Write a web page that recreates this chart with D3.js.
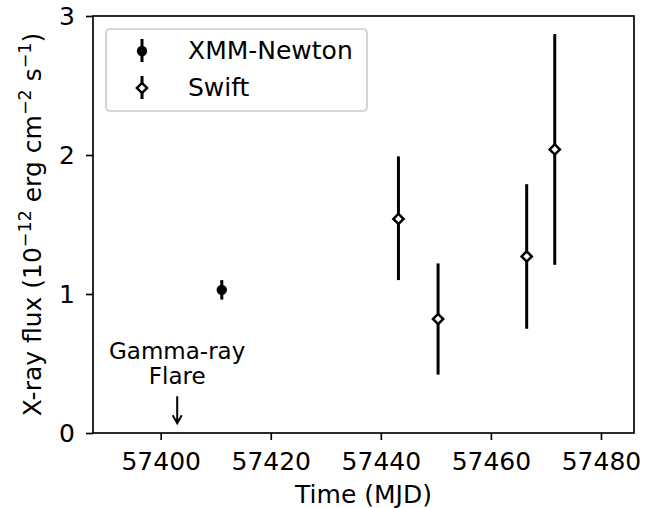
<!DOCTYPE html>
<html lang="en">
  <head>
    <meta charset="UTF-8" />
    <title>X-ray flux light curve</title>
    <script src="https://d3js.org/d3.v7.min.js"></script>
    <style>
      body {
        margin: 0;
        background: #fff;
        font-family: "DejaVu Sans", sans-serif;
      }
      svg text {
        fill: #000;
      }
    </style>
  </head>
  <body>
    <svg width="655" height="508"></svg>

    <script>
      // XMM-Newton point
      const xmmTime = [57411.1];
      const xmmFlux = [1.03];
      const xmmLo = [0.96];
      const xmmHi = [1.10];

      // Swift points
      const swiftTime = [57443.2, 57450.4, 57466.5, 57471.6];
      const swiftFlux = [1.54, 0.82, 1.27, 2.04];
      const swiftLo = [1.10, 0.42, 0.75, 1.21];
      const swiftHi = [1.99, 1.22, 1.79, 2.87];

      // gamma-ray flare marker
      const flareTime = 57403;
      const flareTip = 0.07;
      const flareTail = 0.25;

      const xTicks = [57400, 57420, 57440, 57460, 57480];
      const yTicks = [0, 1, 2, 3];

      const svg = d3.select("svg");
      const pLeft = 93, pRight = 634, pTop = 16, pBottom = 433;

      const x = d3.scaleLinear().domain([57387.7, 57486]).range([pLeft, pRight]);
      const y = d3.scaleLinear().domain([0, 3]).range([pBottom, pTop]);

      const lw = 1.67;

      // axes
      const xAxis = svg.append("g")
        .attr("transform", `translate(0,${pBottom})`)
        .call(d3.axisBottom(x).tickValues(xTicks).tickSize(7).tickPadding(12).tickFormat(d3.format("d")));
      const yAxis = svg.append("g")
        .attr("transform", `translate(${pLeft},0)`)
        .call(d3.axisLeft(y).tickValues(yTicks).tickSize(7).tickPadding(11).tickFormat(d3.format("d")));

      [xAxis, yAxis].forEach((g) => {
        g.select(".domain").remove();
        g.selectAll(".tick line").attr("stroke", "#000").attr("stroke-width", lw);
        g.selectAll(".tick text")
          .attr("font-family", "DejaVu Sans")
          .attr("font-size", 25)
          .attr("fill", "#000");
      });

      // frame
      svg.append("rect")
        .attr("x", pLeft).attr("y", pTop)
        .attr("width", pRight - pLeft).attr("height", pBottom - pTop)
        .attr("fill", "none").attr("stroke", "#000").attr("stroke-width", lw);

      // axis labels
      svg.append("text")
        .attr("x", (pLeft + pRight) / 2).attr("y", 503)
        .attr("text-anchor", "middle")
        .attr("font-size", 25)
        .text("Time (MJD)");

      const yl = svg.append("text")
        .attr("transform", `translate(41,${(pTop + pBottom) / 2}) rotate(-90)`)
        .attr("text-anchor", "middle")
        .attr("font-size", 25);
      const parts = [
        ["X-ray flux (10", false], ["\u221212", true], [" erg cm", false],
        ["\u22122", true], [" s", false], ["\u22121", true], [")", false]
      ];
      parts.forEach(([t, sup], i) => {
        const prevSup = i > 0 && parts[i - 1][1];
        const ts = yl.append("tspan").text(t);
        if (sup) ts.attr("font-size", 17.5).attr("dy", -10);
        else if (prevSup) ts.attr("dy", 10);
      });

      const plot = svg.append("g");

      // error bars
      const bar = (xs, lo, hi) => {
        plot.selectAll(null)
          .data(xs.map((d, i) => ({ t: d, lo: lo[i], hi: hi[i] })))
          .join("line")
          .attr("x1", (d) => x(d.t)).attr("x2", (d) => x(d.t))
          .attr("y1", (d) => y(d.lo)).attr("y2", (d) => y(d.hi))
          .attr("stroke", "#000").attr("stroke-width", 3);
      };
      bar(xmmTime, xmmLo, xmmHi);
      bar(swiftTime, swiftLo, swiftHi);

      const diamond = d3.symbol().type(d3.symbolSquare).size(52);

      plot.selectAll(".xmm")
        .data(xmmTime.map((d, i) => ({ t: d, f: xmmFlux[i] })))
        .join("circle")
        .attr("cx", (d) => x(d.t)).attr("cy", (d) => y(d.f))
        .attr("r", 5.2).attr("fill", "#000");

      plot.selectAll(".swift")
        .data(swiftTime.map((d, i) => ({ t: d, f: swiftFlux[i] })))
        .join("path")
        .attr("d", diamond)
        .attr("transform", (d) => `translate(${x(d.t)},${y(d.f)}) rotate(45)`)
        .attr("fill", "#fff").attr("stroke", "#000").attr("stroke-width", 2.5);

      // flare annotation
      const fx = x(flareTime);
      svg.append("text").attr("x", fx).attr("y", 359)
        .attr("text-anchor", "middle").attr("font-size", 23).text("Gamma-ray");
      svg.append("text").attr("x", fx).attr("y", 384)
        .attr("text-anchor", "middle").attr("font-size", 23).text("Flare");
      const tipY = y(flareTip);
      svg.append("path")
        .attr("d", `M${fx},${y(flareTail) - 2}L${fx},${tipY}M${fx - 4.5},${tipY - 8}L${fx},${tipY}L${fx + 4.5},${tipY - 8}`)
        .attr("fill", "none").attr("stroke", "#000").attr("stroke-width", 2);

      // legend
      const lg = svg.append("g");
      lg.append("rect")
        .attr("x", 106).attr("y", 29).attr("width", 261).attr("height", 82)
        .attr("rx", 4).attr("fill", "#fff").attr("fill-opacity", 0.8)
        .attr("stroke", "#cccccc").attr("stroke-width", lw);
      const entries = [
        { label: "XMM-Newton", cy: 51, kind: "xmm" },
        { label: "Swift", cy: 88, kind: "swift" }
      ];
      entries.forEach((e) => {
        lg.append("line")
          .attr("x1", 142).attr("x2", 142)
          .attr("y1", e.cy - 12).attr("y2", e.cy + 11)
          .attr("stroke", "#000").attr("stroke-width", 3);
        if (e.kind === "xmm") {
          lg.append("circle").attr("cx", 142).attr("cy", e.cy).attr("r", 5.2).attr("fill", "#000");
        } else {
          lg.append("path").attr("d", diamond)
            .attr("transform", `translate(142,${e.cy}) rotate(45)`)
            .attr("fill", "#fff").attr("stroke", "#000").attr("stroke-width", 2.5);
        }
        lg.append("text")
          .attr("x", 188).attr("y", e.cy + 8)
          .attr("font-size", 25).text(e.label);
      });
    </script>
  </body>
</html>
